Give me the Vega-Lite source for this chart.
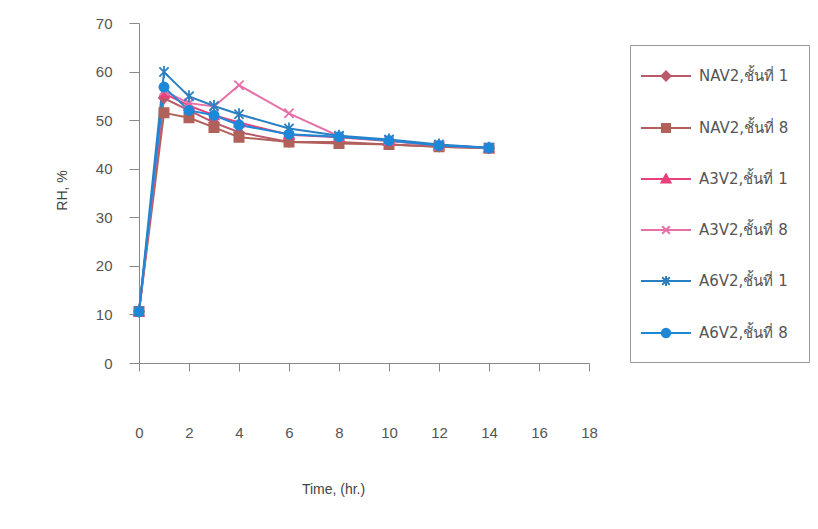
{
  "$schema": "https://vega.github.io/schema/vega-lite/v6.json",
  "width": 450,
  "height": 340,
  "autosize": "none",
  "padding": {"left": 139, "top": 23, "right": 229, "bottom": 166},
  "background": "white",
  "config": {"view": {"stroke": null}, "font": "Liberation Sans"},
  "data": {"values": [
    {"t": 0, "rh": 10.6, "s": "NAV2,ชั้นที่ 1"}, {"t": 1, "rh": 54.5, "s": "NAV2,ชั้นที่ 1"}, {"t": 2, "rh": 52, "s": "NAV2,ชั้นที่ 1"}, {"t": 3, "rh": 49.5, "s": "NAV2,ชั้นที่ 1"}, {"t": 4, "rh": 47.5, "s": "NAV2,ชั้นที่ 1"}, {"t": 6, "rh": 45.5, "s": "NAV2,ชั้นที่ 1"}, {"t": 8, "rh": 45.5, "s": "NAV2,ชั้นที่ 1"}, {"t": 10, "rh": 45, "s": "NAV2,ชั้นที่ 1"}, {"t": 12, "rh": 44.5, "s": "NAV2,ชั้นที่ 1"}, {"t": 14, "rh": 44.2, "s": "NAV2,ชั้นที่ 1"},
    {"t": 0, "rh": 10.6, "s": "NAV2,ชั้นที่ 8"}, {"t": 1, "rh": 51.5, "s": "NAV2,ชั้นที่ 8"}, {"t": 2, "rh": 50.5, "s": "NAV2,ชั้นที่ 8"}, {"t": 3, "rh": 48.5, "s": "NAV2,ชั้นที่ 8"}, {"t": 4, "rh": 46.5, "s": "NAV2,ชั้นที่ 8"}, {"t": 6, "rh": 45.5, "s": "NAV2,ชั้นที่ 8"}, {"t": 8, "rh": 45.2, "s": "NAV2,ชั้นที่ 8"}, {"t": 10, "rh": 45, "s": "NAV2,ชั้นที่ 8"}, {"t": 12, "rh": 44.5, "s": "NAV2,ชั้นที่ 8"}, {"t": 14, "rh": 44.2, "s": "NAV2,ชั้นที่ 8"},
    {"t": 0, "rh": 10.6, "s": "A3V2,ชั้นที่ 1"}, {"t": 1, "rh": 55.5, "s": "A3V2,ชั้นที่ 1"}, {"t": 2, "rh": 53, "s": "A3V2,ชั้นที่ 1"}, {"t": 3, "rh": 51, "s": "A3V2,ชั้นที่ 1"}, {"t": 4, "rh": 49.5, "s": "A3V2,ชั้นที่ 1"}, {"t": 6, "rh": 47, "s": "A3V2,ชั้นที่ 1"}, {"t": 8, "rh": 46.5, "s": "A3V2,ชั้นที่ 1"}, {"t": 10, "rh": 45.7, "s": "A3V2,ชั้นที่ 1"}, {"t": 12, "rh": 44.8, "s": "A3V2,ชั้นที่ 1"}, {"t": 14, "rh": 44.3, "s": "A3V2,ชั้นที่ 1"},
    {"t": 0, "rh": 10.6, "s": "A3V2,ชั้นที่ 8"}, {"t": 1, "rh": 56, "s": "A3V2,ชั้นที่ 8"}, {"t": 2, "rh": 53.5, "s": "A3V2,ชั้นที่ 8"}, {"t": 3, "rh": 52.8, "s": "A3V2,ชั้นที่ 8"}, {"t": 4, "rh": 57.2, "s": "A3V2,ชั้นที่ 8"}, {"t": 6, "rh": 51.4, "s": "A3V2,ชั้นที่ 8"}, {"t": 8, "rh": 46.7, "s": "A3V2,ชั้นที่ 8"}, {"t": 10, "rh": 45.8, "s": "A3V2,ชั้นที่ 8"}, {"t": 12, "rh": 44.8, "s": "A3V2,ชั้นที่ 8"}, {"t": 14, "rh": 44.3, "s": "A3V2,ชั้นที่ 8"},
    {"t": 0, "rh": 10.6, "s": "A6V2,ชั้นที่ 1"}, {"t": 1, "rh": 59.9, "s": "A6V2,ชั้นที่ 1"}, {"t": 2, "rh": 54.9, "s": "A6V2,ชั้นที่ 1"}, {"t": 3, "rh": 52.9, "s": "A6V2,ชั้นที่ 1"}, {"t": 4, "rh": 51.2, "s": "A6V2,ชั้นที่ 1"}, {"t": 6, "rh": 48.3, "s": "A6V2,ชั้นที่ 1"}, {"t": 8, "rh": 46.8, "s": "A6V2,ชั้นที่ 1"}, {"t": 10, "rh": 46, "s": "A6V2,ชั้นที่ 1"}, {"t": 12, "rh": 45, "s": "A6V2,ชั้นที่ 1"}, {"t": 14, "rh": 44.3, "s": "A6V2,ชั้นที่ 1"},
    {"t": 0, "rh": 10.6, "s": "A6V2,ชั้นที่ 8"}, {"t": 1, "rh": 56.8, "s": "A6V2,ชั้นที่ 8"}, {"t": 2, "rh": 52, "s": "A6V2,ชั้นที่ 8"}, {"t": 3, "rh": 51, "s": "A6V2,ชั้นที่ 8"}, {"t": 4, "rh": 49, "s": "A6V2,ชั้นที่ 8"}, {"t": 6, "rh": 47.1, "s": "A6V2,ชั้นที่ 8"}, {"t": 8, "rh": 46.6, "s": "A6V2,ชั้นที่ 8"}, {"t": 10, "rh": 45.8, "s": "A6V2,ชั้นที่ 8"}, {"t": 12, "rh": 44.8, "s": "A6V2,ชั้นที่ 8"}, {"t": 14, "rh": 44.3, "s": "A6V2,ชั้นที่ 8"}
  ]},
  "encoding": {
    "x": {"field": "t", "type": "quantitative", "scale": {"domain": [0, 18], "nice": false, "zero": false},
      "axis": {"values": [0, 2, 4, 6, 8, 10, 12, 14, 16, 18], "grid": false, "labelFlush": false, "tickSize": 8, "labelPadding": 54, "labelFontSize": 15, "labelColor": "#555", "domainColor": "#888", "tickColor": "#888", "title": "Time, (hr.)", "titleFontSize": 14, "titleFontWeight": "normal", "titleColor": "#444", "titleX": 194, "titleY": 119}},
    "y": {"field": "rh", "type": "quantitative", "scale": {"domain": [0, 70], "nice": false},
      "axis": {"values": [0, 10, 20, 30, 40, 50, 60, 70], "grid": false, "tickSize": 10, "labelPadding": 17, "labelFontSize": 15, "labelColor": "#555", "domainColor": "#888", "tickColor": "#888", "title": "RH, %", "titleFontSize": 14, "titleFontWeight": "normal", "titleColor": "#444", "titleX": -77, "titleY": 167, "titleAngle": 270, "titleAlign": "center", "titleBaseline": "middle"}},
    "order": {"field": "t", "type": "quantitative"}
  },
  "layer": [
    {
      "mark": {"type": "line", "strokeWidth": 2},
      "encoding": {
        "color": {"field": "s", "type": "nominal",
          "scale": {"domain": ["NAV2,ชั้นที่ 1", "NAV2,ชั้นที่ 8", "A3V2,ชั้นที่ 1", "A3V2,ชั้นที่ 8", "A6V2,ชั้นที่ 1", "A6V2,ชั้นที่ 8"],
                    "range": ["#b85a6a", "#b0625a", "#e8407a", "#e870a8", "#2a7fc0", "#1e88d8"]},
          "legend": {"orient": "none", "legendX": 491, "legendY": 22, "title": null, "strokeColor": "#999", "padding": 20, "rowPadding": 32, "symbolSize": 400, "symbolOffset": 5, "labelOffset": 22, "labelFontSize": 15, "labelColor": "#555", "labelFont": "DejaVu Sans",
            "encode": {"symbols": {"update": {"fill": {"scale": "color", "field": "value"}, "stroke": {"scale": "color", "field": "value"}, "strokeWidth": {"value": 2}, "opacity": {"value": 1}, "size": {"value": 400}}}}}}
      }
    },
    {
      "mark": {"type": "point", "filled": true, "size": 85, "strokeWidth": 1.8, "opacity": 1},
      "encoding": {
        "color": {"field": "s", "type": "nominal"},
        "stroke": {"field": "s", "type": "nominal", "legend": null,
          "scale": {"domain": ["NAV2,ชั้นที่ 1", "NAV2,ชั้นที่ 8", "A3V2,ชั้นที่ 1", "A3V2,ชั้นที่ 8", "A6V2,ชั้นที่ 1", "A6V2,ชั้นที่ 8"],
                    "range": ["#b85a6a", "#b0625a", "#e8407a", "#e870a8", "#2a7fc0", "#1e88d8"]}},
        "shape": {"condition": [
          {"test": "datum.s === 'NAV2,ชั้นที่ 1'", "value": "diamond"},
          {"test": "datum.s === 'NAV2,ชั้นที่ 8'", "value": "square"},
          {"test": "datum.s === 'A3V2,ชั้นที่ 1'", "value": "triangle-up"},
          {"test": "datum.s === 'A3V2,ชั้นที่ 8'", "value": "M-1,-1L1,1M-1,1L1,-1"},
          {"test": "datum.s === 'A6V2,ชั้นที่ 1'", "value": "M-1,-1L1,1M-1,1L1,-1M0,-1.3L0,1.3"}
        ], "value": "circle"}
      }
    },
    {
      "mark": {"type": "point", "filled": true, "opacity": 0},
      "encoding": {
        "color": {"field": "s", "type": "nominal"},
        "shape": {"field": "s", "type": "nominal",
          "scale": {"domain": ["NAV2,ชั้นที่ 1", "NAV2,ชั้นที่ 8", "A3V2,ชั้นที่ 1", "A3V2,ชั้นที่ 8", "A6V2,ชั้นที่ 1", "A6V2,ชั้นที่ 8"],
            "range": [
              "M-2.5,0H2.5M0,-0.45L0.45,0L0,0.45L-0.45,0Z",
              "M-2.5,0H2.5M-0.4,-0.4H0.4V0.4H-0.4Z",
              "M-2.5,0H2.5M0,-0.45L0.45,0.35L-0.45,0.35Z",
              "M-2.5,0H2.5M-0.38,-0.38L0.38,0.38M-0.38,0.38L0.38,-0.38",
              "M-2.5,0H2.5M-0.38,-0.38L0.38,0.38M-0.38,0.38L0.38,-0.38M0,-0.5V0.5",
              "M-2.5,0H2.5M0.42,0A0.42,0.42,0,1,1,-0.42,0A0.42,0.42,0,1,1,0.42,0Z"
            ]}}
      }
    }
  ]
}
